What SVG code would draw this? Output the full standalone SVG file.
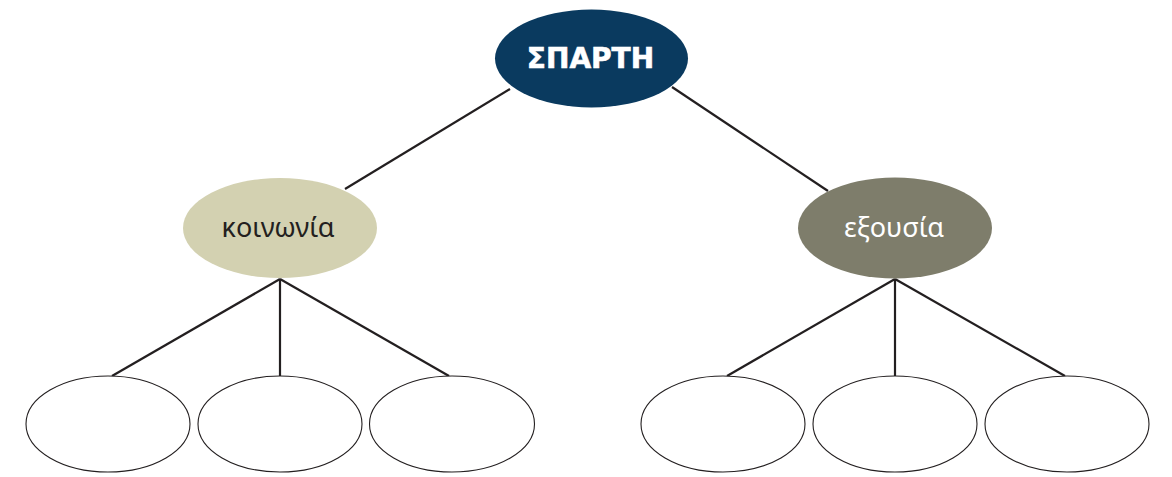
<svg xmlns="http://www.w3.org/2000/svg" width="1172" height="477" viewBox="0 0 1172 477">
<style>
.conn line{stroke:#231f20;stroke-width:2.2;fill:none}
.leaf{fill:#ffffff;stroke:#231f20;stroke-width:1.1}
.lbl{font-family:"Noto Sans","Open Sans",sans-serif;font-size:27px;text-anchor:middle}
</style>
<rect width="1172" height="477" fill="#ffffff"/>
<g id="connectors" class="conn">
<line x1="510" y1="89" x2="345" y2="189"/>
<line x1="672" y1="87" x2="828" y2="191"/>
<line x1="280" y1="279" x2="112" y2="376"/>
<line x1="280" y1="279" x2="280" y2="376"/>
<line x1="280" y1="279" x2="449" y2="376"/>
<line x1="895" y1="279" x2="727" y2="376"/>
<line x1="895" y1="279" x2="895" y2="376"/>
<line x1="895" y1="279" x2="1065" y2="376"/>
</g>
<g id="sparti">
<ellipse cx="591.5" cy="58.5" rx="96.5" ry="49" fill="#0a3a5f"/>
<text x="590.5" y="68" font-family="DejaVu Sans,sans-serif" font-weight="bold" font-size="28" fill="#ffffff" text-anchor="middle" stroke="#ffffff" stroke-width="0.6">ΣΠΑΡΤΗ</text>
</g>
<g id="koinonia">
<ellipse cx="280" cy="228" rx="97" ry="50" fill="#d3d1b1"/>
<text class="lbl" x="278" y="237" fill="#231f20">κοινωνία</text>
</g>
<g id="exousia">
<ellipse cx="895" cy="228" rx="97" ry="50.5" fill="#7e7d6b"/>
<text class="lbl" x="894" y="237" fill="#ffffff">εξουσία</text>
</g>
<g id="leaf1"><ellipse class="leaf" cx="108" cy="424" rx="82" ry="48"/></g>
<g id="leaf2"><ellipse class="leaf" cx="280" cy="424" rx="82" ry="48"/></g>
<g id="leaf3"><ellipse class="leaf" cx="452" cy="424" rx="82.5" ry="48"/></g>
<g id="leaf4"><ellipse class="leaf" cx="723" cy="424" rx="82" ry="48"/></g>
<g id="leaf5"><ellipse class="leaf" cx="895" cy="424" rx="82" ry="48"/></g>
<g id="leaf6"><ellipse class="leaf" cx="1067" cy="424" rx="82" ry="48"/></g>
</svg>
